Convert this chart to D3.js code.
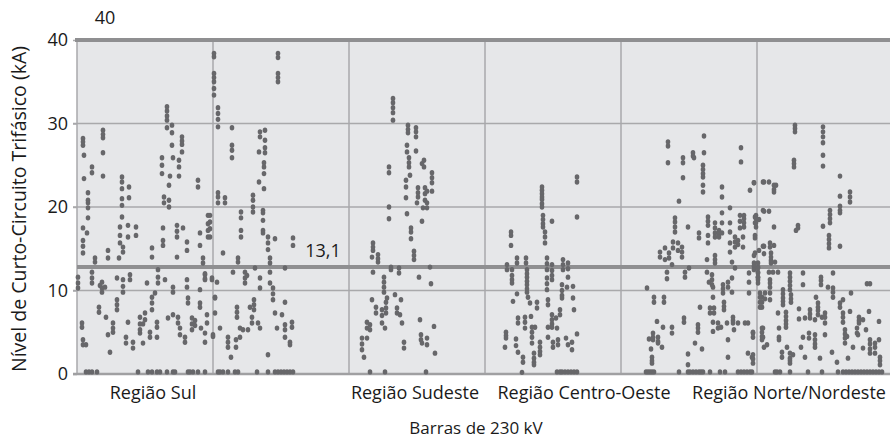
<!DOCTYPE html>
<html><head><meta charset="utf-8">
<script src="https://cdnjs.cloudflare.com/ajax/libs/d3/7.8.5/d3.min.js"></script>
<style>body{margin:0;background:#fff}text{font-family:"Open Sans",sans-serif;fill:#1a1a1a}</style>
</head><body><svg id="c" width="890" height="439"></svg>
<script>
// ---- data (x = bar index, y = short-circuit level in kA) ----
const yTicks = [0, 10, 20, 30, 40];
const gridX = [0, 136, 272, 408, 544, 680, 816];
const regionLabels = ["Região Sul", "Região Sudeste", "Região Centro-Oeste", "Região Norte/Nordeste"];
const regionLabelPos = [76, 338, 507, 712];
const limitTop = 40, limitTopLabel = "40";
const limitRef = 12.8, limitRefLabel = "13,1";
const xTitle = "Barras de 230 kV";
const yTitle = "Nível de Curto-Circuito Trifásico (kA)";

const sulUpper = [[6,28.2],[6,27.8],[6,27.4],[7,26.2],[7,23.4],[15,24.8],[15,24.1],[26,29.2],[26,28.7],[26,28.3],[26,26.5],[26,23.7],[45,23.6],[45,23.0],[45,22.2],[52,22.4],[52,21.1],[90,32.0],[90,31.5],[90,30.9],[90,30.4],[90,29.5],[95,29.8],[95,28.9],[95,27.4],[85,25.9],[85,25.0],[85,24.0],[96,25.9],[102,25.6],[102,24.8],[102,23.7],[93,23.7],[92,22.6],[105,28.4],[105,27.9],[105,27.5],[105,26.6],[121,23.2],[121,22.4],
[137,38.4],[137,38.0],[137,36.0],[137,35.5],[137,35.0],[137,34.2],[137,33.4],[141,31.9],[141,31.2],[141,30.5],[141,29.6],[141,21.7],[141,21.2],[141,20.5],[155,29.5],[155,27.4],[155,26.8],[155,25.9],[183,29.0],[183,28.4],[188,29.2],[188,28.0],[188,27.1],[188,26.5],[182,26.6],[187,25.3],[187,24.8],[187,24.0],[182,23.0],[187,22.2],[201,38.4],[201,37.9],[201,36.0],[201,35.5],[201,35.0],[148,21.1],[148,20.5],[176,21.4],[176,20.8],[176,20.0],[11,21.7],[11,20.5],[45,21.0],[45,20.2],[87,21.2],[87,20.5],[92,20.8],[92,20.0]];
const sulMid = [[11,20.8],[11,19.9],[11,18.7],[6,17.5],[10,16.9],[6,16.0],[6,15.3],[6,14.5],[18,13.9],[18,13.4],[31,14.8],[31,13.9],[43,17.6],[43,16.6],[43,15.7],[45,18.8],[46,15.2],[46,14.6],[51,17.8],[51,16.4],[59,17.6],[59,16.6],[42,13.9],[86,16.0],[86,15.4],[86,17.5],[75,15.1],[75,14.0],[100,17.8],[100,17.1],[100,16.4],[106,17.5],[110,15.8],[110,14.8],[100,14.0],[123,16.9],[123,15.4],[131,19.0],[131,18.0],[131,17.2],[131,16.4],[126,13.9],[126,13.3],
[133,19.0],[133,18.2],[133,17.4],[133,16.4],[176,19.4],[164,19.4],[164,18.7],[164,17.2],[164,16.4],[146,14.5],[161,13.9],[161,13.4],[186,19.6],[186,19.3],[186,18.4],[186,17.2],[186,16.9],[191,16.4],[191,15.7],[191,14.9],[198,16.2],[216,16.3],[216,15.4],[193,13.9],[193,13.3]];
const sulLow = [[15,12.2],[15,11.5],[15,10.9],[1,11.6],[1,10.9],[1,10.3],[25,11.0],[25,10.3],[25,9.8],[23,10.6],[28,10.4],[40,11.5],[46,11.3],[46,10.5],[46,9.8],[53,11.9],[53,11.3],[70,10.9],[81,12.5],[81,11.6],[81,10.9],[88,11.3],[96,10.4],[96,9.8],[110,11.3],[110,10.4],[123,10.1],[128,11.9],[128,11.3],[135,11.3],
[22,8.0],[22,7.4],[29,6.8],[40,8.9],[40,8.3],[40,7.7],[36,6.1],[36,5.5],[36,5.0],[31,4.7],[33,2.6],[5,6.1],[5,5.6],[6,4.1],[6,3.5],[9,3.5],[49,4.4],[49,3.7],[56,3.8],[56,3.1],[51,6.2],[63,6.8],[63,6.0],[63,5.3],[63,4.9],[66,6.0],[68,7.3],[68,6.5],[75,9.2],[75,8.5],[75,7.7],[78,9.7],[73,5.0],[73,4.4],[80,6.2],[80,5.6],[80,4.4],[66,3.7],[91,6.7],[96,7.1],[101,6.8],[101,6.1],[103,5.5],[103,4.7],[108,4.4],[108,3.8],[111,9.1],[111,8.5],[115,6.7],[115,6.0],[115,5.3],[118,6.4],[118,5.8],[124,5.5],[128,4.9],[128,3.8],[130,7.1],[123,8.5],[123,8.0],[136,4.7],[138,9.2],
[208,12.7],[178,12.7],[156,12.2],[168,12.2],[168,11.5],[168,10.9],[170,11.8],[183,11.5],[183,10.3],[193,12.2],[193,10.9],[135,11.5],[140,11.0],[128,12.0],[128,11.4],[196,10.3],[196,9.6],[196,8.9],[208,8.6],[138,9.1],[160,8.0],[160,7.4],[160,6.8],[138,7.3],[173,8.0],[177,8.9],[177,8.3],[177,7.7],[175,6.8],[175,6.1],[181,6.1],[198,7.3],[205,7.1],[130,6.1],[143,5.5],[151,4.4],[151,3.8],[151,3.2],[163,5.5],[163,4.4],[166,5.3],[171,5.3],[183,5.5],[159,4.1],[159,3.2],[200,5.5],[208,5.9],[208,5.3],[215,6.2],[215,5.6],[208,4.4],[213,3.8],[213,3.5],[154,2.0],[191,2.3],[136,4.5]];
const sulZero = [9,12,15,20,61,71,75,80,83,90,96,98,111,113,116,121,128,141,143,146,151,158,161,180,191,198,201,204,207,210,213,216];

const sudeste = [[316,33.0],[316,32.5],[316,31.9],[316,31.3],[316,30.4],[331,29.8],[331,29.3],[331,28.9],[339,29.5],[339,29.0],[339,28.4],[330,27.4],[330,26.6],[339,26.7],[332,25.9],[332,25.3],[332,24.8],[312,24.8],[312,24.1],[347,25.6],[347,24.8],[345,25.2],[333,23.8],[355,24.1],[355,23.5],[355,22.9],[329,23.2],[329,22.4],[341,22.3],[341,21.7],[341,21.2],[348,22.3],[348,21.6],[348,20.8],[350,21.9],[355,21.9],[350,20.5],[350,19.9],[329,21.1],[340,20.5],[346,19.9],[312,20.0],[312,18.6],[330,19.2],[345,18.3],[334,17.5],[334,17.0],[334,16.2],[337,14.7],[337,14.2],[337,13.7],[296,15.7],[296,15.2],[296,14.8],[301,14.3],[301,13.8],[301,13.4],[295,14.0],[296,12.2],[314,12.8],[314,12.5],[322,12.7],[322,12.1],[307,11.6],[307,11.0],[307,10.4],[307,9.8],[353,12.8],[342,11.6],[354,10.8],[318,9.5],[310,9.1],[324,8.9],[295,8.9],[299,8.0],[299,7.3],[305,7.7],[305,7.0],[305,6.1],[309,8.6],[309,7.9],[309,7.3],[320,7.9],[320,7.3],[323,7.1],[325,6.1],[290,6.2],[290,5.5],[293,5.9],[293,5.3],[308,5.5],[343,6.5],[357,5.7],[285,4.3],[285,3.6],[285,2.9],[290,4.3],[287,2.0],[327,3.8],[327,3.1],[344,4.7],[344,4.1],[345,3.7],[350,4.3],[350,3.5],[358,2.5]];
const sudesteZero = [293,308,349];

const centroOeste = [[465,22.4],[465,22.0],[465,21.6],[465,21.2],[465,20.9],[465,20.4],[465,20.0],[500,23.6],[500,23.0],[500,18.8],[466,19.0],[466,18.5],[466,18.0],[466,17.6],[475,18.3],[468,17.0],[468,16.4],[468,15.7],[434,17.0],[434,16.6],[434,15.4],[440,13.9],[440,13.3],[430,13.1],[430,12.5],[435,12.5],[435,11.8],[435,11.3],[435,10.9],[449,13.9],[449,13.3],[450,12.5],[450,12.0],[450,11.6],[450,11.1],[450,10.7],[450,10.2],[450,9.8],[451,9.2],[453,8.5],[460,8.6],[460,7.9],[470,13.9],[470,13.2],[470,12.5],[470,11.5],[470,10.8],[470,10.1],[471,8.9],[471,8.3],[475,13.1],[475,12.4],[475,11.8],[475,11.3],[486,13.7],[486,13.1],[486,12.5],[491,13.3],[491,12.6],[491,11.6],[485,10.7],[485,10.0],[485,9.4],[485,9.1],[490,10.4],[496,10.5],[496,9.1],[497,7.7],[440,9.6],[436,8.7],[441,6.7],[441,6.1],[448,6.8],[448,6.2],[448,5.5],[454,6.9],[455,5.6],[455,5.0],[455,4.4],[455,3.7],[458,5.6],[429,5.0],[429,4.6],[429,4.3],[439,4.2],[428,3.2],[439,3.4],[441,2.6],[446,2.0],[446,1.4],[445,0.2],[457,2.5],[457,1.9],[457,1.4],[457,1.1],[463,3.8],[463,3.2],[463,2.7],[463,2.3],[475,7.1],[475,6.5],[475,6.0],[475,5.6],[479,6.7],[483,7.7],[483,7.1],[480,5.5],[471,5.6],[471,4.4],[476,3.8],[476,3.2],[481,4.1],[481,3.5],[489,4.3],[491,3.5],[495,3.8],[495,2.9],[500,4.8]];
const centroOesteZero = [480,483,485,488,491,494,497,500];

const norteA = [[591,27.8],[591,27.3],[591,25.3],[606,25.9],[606,25.3],[606,23.5],[616,26.5],[616,26.1],[617,25.9],[627,28.5],[627,26.5],[626,25.0],[626,24.5],[626,24.0],[626,23.6],[626,22.6],[626,21.8],[602,20.7],[645,22.4],[645,21.2],[664,27.1],[664,25.4],[673,22.0],[677,22.9],[686,23.0],[653,19.9],[645,19.3],[631,18.8],[631,18.3],[631,17.8],[638,18.1],[638,17.5],[638,16.9],[638,16.4],[642,17.2],[642,16.8],[642,16.4],[631,16.6],[631,15.7],[622,16.9],[622,16.3],[611,17.6],[598,18.7],[598,18.2],[598,17.6],[598,17.0],[596,15.8],[596,15.1],[601,15.7],[601,14.8],[605,15.2],[605,14.6],[605,14.0],[583,14.6],[583,14.0],[588,15.1],[588,13.7],[592,14.5],[592,13.9],[595,13.1],[590,12.2],[590,11.4],[608,12.2],[608,11.6],[612,12.7],[653,18.1],[653,17.0],[653,15.7],[653,14.6],[658,16.4],[658,15.8],[658,15.2],[661,16.0],[661,15.5],[666,16.4],[666,15.2],[663,19.0],[663,18.3],[663,17.5],[667,19.0],[667,18.6],[667,18.1],[667,17.6],[645,18.1],[645,16.9],[638,14.2],[638,13.7],[638,13.3],[630,13.7],[655,13.4],[658,12.7],[630,12.2],[635,11.9],[635,11.3],[635,10.7],[632,11.0],[636,10.4],[651,11.0],[651,10.4],[655,11.5],[646,10.7],[646,10.2],[646,9.7],[655,9.8],[672,12.1],[672,11.0],[672,9.7],[677,14.2],[677,13.3],[677,12.9],[677,12.5],[681,12.8],[681,12.2],[681,11.6],[681,10.9],[678,16.6],[678,18.8],[678,18.1],[682,18.5],[686,19.6],[686,15.3],[682,14.8],
[570,10.3],[577,9.2],[577,8.6],[587,9.2],[587,8.6],[580,6.3],[586,5.6],[595,5.6],[595,4.9],[607,6.7],[607,6.2],[572,4.2],[576,4.9],[576,4.4],[576,4.1],[581,4.4],[581,3.9],[581,3.7],[585,3.2],[574,3.0],[575,2.0],[575,1.6],[575,1.3],[621,5.9],[621,5.5],[621,5.0],[618,3.7],[611,2.4],[611,1.1],[625,3.0],[623,8.0],[633,7.9],[633,7.3],[637,7.9],[637,7.3],[636,9.2],[647,8.6],[647,8.1],[647,7.7],[636,6.2],[636,5.1],[641,6.1],[641,5.5],[644,5.6],[650,6.1],[656,6.8],[656,6.4],[656,6.1],[657,5.3],[661,6.1],[668,6.1],[671,6.1],[651,4.1],[651,2.0],[671,2.5],[675,2.0],[676,4.9],[685,5.5],[685,5.0],[685,4.5],[685,4.1],[685,9.2],[685,8.6],[685,8.0]];
const norteB = [[718,29.8],[718,29.4],[718,29.0],[717,25.6],[717,25.2],[717,24.8],[746,29.6],[746,29.0],[746,28.4],[746,27.7],[746,26.2],[746,24.9],[763,23.7],[763,21.3],[763,20.1],[763,19.6],[763,19.3],[773,21.8],[773,21.2],[773,20.6],[753,19.6],[753,19.1],[753,18.6],[753,18.1],[746,17.7],[752,16.6],[752,16.1],[752,15.6],[752,15.1],[763,15.3],[721,17.8],[721,17.5],[719,17.2],[687,23.0],[692,23.0],[697,22.6],[697,22.1],[697,21.8],[699,22.6],[677,22.9],[687,19.5],[692,19.5],[697,17.6],[679,19.0],[679,18.6],[679,18.1],[679,17.6],[678,16.3],[687,15.3],[693,15.7],[693,15.2],[697,15.4],[687,14.4],[694,14.5],[694,14.0],[694,13.6],[694,13.3],[698,13.4],[678,14.5],[681,13.3],[681,12.7],[681,12.1],[681,11.6],[681,11.3],[692,12.2],[696,12.2],[701,12.2],[693,11.3],[693,10.9],[693,10.4],[713,12.1],[713,11.6],[713,11.1],[713,10.6],[713,10.1],[726,12.1],[726,10.7],[744,11.6],[744,11.2],[744,10.7],[751,10.4],[756,12.1],[756,10.3],[756,9.8],[756,9.2],[774,9.7],[790,10.8],[793,10.8],
[683,9.7],[683,9.2],[683,8.6],[683,8.0],[688,9.7],[688,9.0],[693,9.7],[693,8.9],[706,10.1],[706,9.6],[706,9.1],[706,8.7],[706,8.3],[714,9.5],[714,9.0],[714,8.6],[701,7.3],[709,7.4],[709,6.9],[709,6.4],[709,6.0],[709,5.6],[722,7.8],[722,6.6],[728,6.7],[733,7.7],[733,7.2],[733,6.7],[738,6.5],[741,8.5],[741,8.0],[741,7.6],[741,7.1],[739,9.2],[745,6.8],[748,7.3],[748,6.8],[748,6.1],[763,8.5],[763,8.0],[766,8.9],[766,7.3],[766,6.8],[766,6.2],[773,7.5],[782,6.8],[782,6.4],[782,6.1],[786,6.5],[792,7.5],[802,6.3],[789,5.3],[780,5.5],[780,4.9],[676,5.0],[676,4.4],[686,5.5],[686,4.4],[690,3.5],[702,5.5],[702,4.4],[702,4.1],[726,4.4],[732,4.9],[732,4.3],[738,4.7],[738,4.1],[738,3.6],[738,3.2],[748,4.7],[724,3.2],[728,2.0],[710,3.2],[705,2.6],[705,2.0],[713,2.5],[713,1.9],[713,1.6],[713,1.3],[716,2.3],[755,2.6],[760,1.4],[743,1.9],[768,5.3],[768,4.8],[768,4.3],[768,3.7],[770,4.5],[776,3.2],[771,1.9],[781,4.7],[786,3.1],[793,4.1],[793,3.6],[793,3.0],[793,2.5],[798,3.7],[798,3.2],[798,2.5],[802,4.1],[803,2.0],[803,1.6],[803,1.1],[676,2.3],[676,1.8],[676,1.3],[687,3.2]];
const norteZero = [569,571,573,575,577,602,611,613,616,619,622,624,626,633,643,648,661,664,667,670,673,675,698,700,703,713,731,745,761,766,769,772,775,778,781,784,787,790,793,796,799,802,805];

// ---- chart ----
const svg = d3.select("#c");
const M = {l:77, t:40, r:890, b:374};
const x = d3.scaleLinear().domain([0, 816]).range([M.l, M.l + 816]);
const y = d3.scaleLinear().domain([0, 40]).range([M.b, M.t]);

svg.append("rect").attr("x", M.l).attr("y", M.t).attr("width", M.r - M.l).attr("height", M.b - M.t).attr("fill", "#e6e7e9");

const gridCol = "#a9a9ab";
svg.append("g").selectAll("line").data(yTicks.filter(v => v > 0 && v < 40)).join("line")
  .attr("x1", M.l - 4).attr("x2", M.r).attr("y1", d => y(d)).attr("y2", d => y(d))
  .attr("stroke", gridCol).attr("stroke-width", 1.5);
svg.append("g").selectAll("line").data(gridX).join("line")
  .attr("x1", d => x(d)).attr("x2", d => x(d)).attr("y1", M.t).attr("y2", M.b)
  .attr("stroke", gridCol).attr("stroke-width", 1.5);

// y axis labels
const yAxis = d3.axisLeft(y).tickValues(yTicks).tickSize(4).tickPadding(5);
const ga = svg.append("g").attr("transform", `translate(${M.l},0)`).call(yAxis);
ga.select(".domain").remove();
ga.selectAll("line").attr("stroke", gridCol).attr("stroke-width", 1.5);
ga.selectAll("text").style("font-family", '"Open Sans",sans-serif').style("font-size", "18px").attr("fill", "#1a1a1a");

// baseline
svg.append("line").attr("x1", M.l - 4).attr("x2", M.r).attr("y1", y(0)).attr("y2", y(0)).attr("stroke", "#a0a0a2").attr("stroke-width", 2.5);

// reference lines
svg.append("line").attr("x1", M.l - 2).attr("x2", M.r).attr("y1", y(limitTop)).attr("y2", y(limitTop)).attr("stroke", "#8f8f91").attr("stroke-width", 4);
svg.append("line").attr("x1", M.l).attr("x2", M.r).attr("y1", y(limitRef)).attr("y2", y(limitRef)).attr("stroke", "#8f8f91").attr("stroke-width", 4);
svg.append("text").attr("x", 105).attr("y", y(limitTop) - 16).attr("text-anchor", "middle").style("font-size", "18px").text(limitTopLabel);
svg.append("text").attr("x", 323).attr("y", y(limitRef) - 10).attr("text-anchor", "middle").style("font-size", "18px").text(limitRefLabel);

// points
const pts = [].concat(sulUpper, sulMid, sulLow, sudeste, centroOeste, norteA, norteB);
const zeros = [].concat(sulZero, sudesteZero, centroOesteZero, norteZero).map(v => [v, 0.25]);
svg.append("g").selectAll("ellipse").data(pts.concat(zeros)).join("ellipse")
  .attr("cx", d => x(d[0])).attr("cy", d => y(d[1]))
  .attr("rx", 2.3).attr("ry", 2.7).attr("fill", "#67676a");

// x labels
svg.append("g").selectAll("text").data(regionLabels).join("text")
  .attr("x", (d, i) => x(regionLabelPos[i])).attr("y", 399).attr("text-anchor", "middle")
  .style("font-size", "18px").text(d => d);
svg.append("text").attr("x", 476).attr("y", 434).attr("text-anchor", "middle").style("font-size", "17px").text(xTitle);
svg.append("text").attr("transform", `translate(26,${(M.t + M.b) / 2 + 2}) rotate(-90)`).attr("text-anchor", "middle")
  .style("font-size", "19.5px").text(yTitle);
</script></body></html>
